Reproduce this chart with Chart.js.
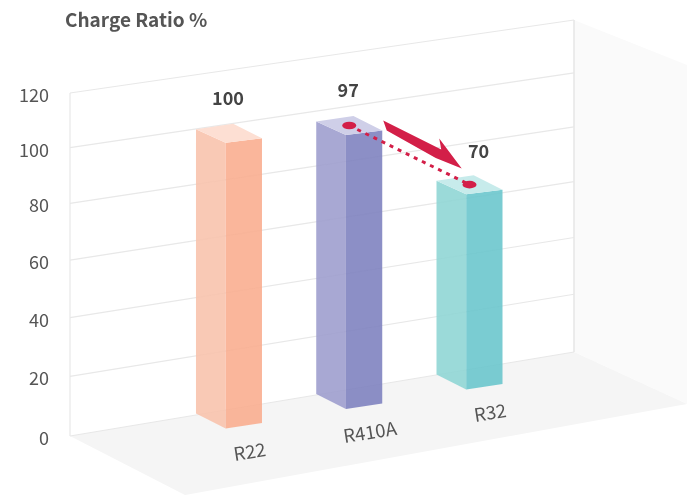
<!DOCTYPE html>
<html>
<head>
<meta charset="utf-8">
<title>Charge Ratio</title>
<style>
    html, body { margin: 0; padding: 0; background: #fff; }
    canvas { display: block; }
</style>
<script src="https://cdn.jsdelivr.net/npm/chart.js@4"></script>
</head>
<body>
<canvas id="ratioChart" width="687" height="498"></canvas>
<script>
/* ------------------------------
   DATA
--------------------------------*/

const categories = ["R22", "R410A", "R32"];
const chargeRatio = [100, 97, 70];
const valueTicks = [0, 20, 40, 60, 80, 100, 120];

/* ------------------------------
   COLOURS (left face, right face, top face)
--------------------------------*/

const leftFaces = ["#f8c3ade6", "#9f9fcee6", "#90d6d5e6"];
const rightFaces = ["#f9ae90e6", "#8083c0e6", "#6bc6cde6"];
const topFaces = ["#fddfd3", "#cfcfe8", "#c7ebeb"];
const red = "#d31f48";
const gridColor = "#e8e8e8";
const fontName = '"Noto Sans CJK KR", "Noto Sans", sans-serif';

/* ------------------------------
   SCALES WITH THE ROOM'S PERSPECTIVE
--------------------------------*/

// ticks bunch up slightly towards the top of the back wall
class WallScale extends Chart.LinearScale {
    getPixelForTick(index) {
        const t = this.ticks[index].value / this.max;
        return this.bottom - (this.bottom - this.top) * (t + 0.052 * t * (1 - t));
    }
}
WallScale.id = "wall";
WallScale.defaults = Chart.LinearScale.defaults;

// the bars stand in the middle of the floor, not spread over the whole wall
class FloorScale extends Chart.CategoryScale {
    configure() {
        super.configure();
        this._startValue = -1.322;
        this._valueRange = 4.191;
    }
}
FloorScale.id = "floor";
FloorScale.defaults = Chart.CategoryScale.defaults;

Chart.register(WallScale, FloorScale);

// where a wall point ends up on the right hand edge
function wallRightY(y, area) {
    return 352 - (area.bottom - y) * 332 / (area.bottom - area.top);
}

function poly(ctx, pts, fill) {
    ctx.beginPath();
    pts.forEach((p, i) => i ? ctx.lineTo(p[0], p[1]) : ctx.moveTo(p[0], p[1]));
    ctx.closePath();
    ctx.fillStyle = fill;
    ctx.fill();
}

// corners of one box, worked out from the bar element
function boxOf(el) {
    const half = el.width / 2;
    const fx = el.x - half + el.width * 0.45;
    const fy = 428.5 - (el.x - 229) * 0.1625;
    const h = (el.base - el.y) * (1 - 0.0001 * (el.x - 229));
    const top = fy - h;
    return {
        bottom: { left: [el.x - half, fy - 15], front: [fx, fy], right: [el.x + half, fy - 5.5] },
        top: { left: [el.x - half, top - 13.5], front: [fx, top], right: [el.x + half, top - 4.5], back: [fx + 7.5, top - 19] },
        center: [el.x, top - 9.5]
    };
}

/* ------------------------------
   ROOM: FLOOR, SIDE WALL, GRID LINES
--------------------------------*/

const roomPlugin = {
    id: "room",
    beforeDraw(chart) {
        // the title starts above the wall, not at the canvas edge
        chart.titleBlock.left = 65;
    },
    beforeDatasetsDraw(chart) {
        const ctx = chart.ctx;
        const area = chart.chartArea;
        const y = chart.scales.y;

        ctx.save();
        poly(ctx, [[574, 20], [687, 65], [687, 404], [574, 352]], "#fafafa");
        poly(ctx, [[area.left, area.bottom], [574, 352], [687, 404], [185, 495]], "#f5f5f5");

        ctx.strokeStyle = gridColor;
        ctx.lineWidth = 1.2;
        y.ticks.forEach((t, i) => {
            const py = y.getPixelForTick(i);
            ctx.beginPath();
            ctx.moveTo(area.left, py);
            ctx.lineTo(area.right, wallRightY(py, area));
            ctx.stroke();
        });
        ctx.beginPath();
        ctx.moveTo(area.left, area.top);
        ctx.lineTo(area.left, area.bottom);
        ctx.stroke();
        ctx.lineWidth = 1.6;
        ctx.beginPath();
        ctx.moveTo(area.right, wallRightY(area.top, area));
        ctx.lineTo(area.right, wallRightY(area.bottom, area));
        ctx.stroke();
        ctx.restore();
    }
};

/* ------------------------------
   3D BARS
--------------------------------*/

const boxPlugin = {
    id: "boxes",
    beforeDatasetDraw(chart, args) {
        const ctx = chart.ctx;
        args.meta.data.forEach((el, i) => {
            const b = boxOf(el);
            poly(ctx, [b.top.left, b.top.front, b.bottom.front, b.bottom.left], leftFaces[i]);
            poly(ctx, [b.top.front, b.top.right, b.bottom.right, b.bottom.front], rightFaces[i]);
            poly(ctx, [b.top.left, b.top.front, b.top.right, b.top.back], topFaces[i]);
        });
        return false;
    },
    afterDatasetsDraw(chart) {
        const ctx = chart.ctx;
        const boxes = chart.getDatasetMeta(0).data.map(boxOf);
        const from = boxes[1].center;
        const to = boxes[2].center;

        /* category names lie on the floor */
        ctx.save();
        ctx.fillStyle = "#555";
        ctx.font = "18.5px " + fontName;
        ctx.textAlign = "center";
        ctx.textBaseline = "middle";
        categories.forEach((name, i) => {
            const front = boxes[i].bottom.front;
            ctx.save();
            ctx.translate(front[0] + 24, front[1] + 23);
            ctx.rotate(-9 * Math.PI / 180);
            ctx.fillText(name, 0, 0);
            ctx.restore();
        });

        /* drop from R410A to R32 */
        ctx.strokeStyle = red;
        ctx.lineWidth = 3;
        ctx.setLineDash([4, 5]);
        ctx.beginPath();
        ctx.moveTo(from[0], from[1]);
        ctx.lineTo(to[0], to[1]);
        ctx.stroke();
        ctx.setLineDash([]);

        [from, to].forEach(p => {
            ctx.beginPath();
            ctx.ellipse(p[0], p[1], 7, 3.8, 0, 0, Math.PI * 2);
            ctx.fillStyle = red;
            ctx.fill();
        });

        const arrow = [[34, -5], [92, 24], [90, 13], [112.5, 43], [86.5, 32.5], [37.5, 5]];
        poly(ctx, arrow.map(a => [from[0] + a[0], from[1] + a[1]]), red);

        /* value labels */
        ctx.fillStyle = "#444";
        ctx.font = "bold 18px " + fontName;
        chargeRatio.forEach((v, i) => {
            const shift = i === 2 ? 10 : 0;
            const drop = i === 2 ? 2 : 0;
            ctx.fillText(String(v), boxes[i].center[0] + shift - 1, boxes[i].center[1] - 35 + drop);
        });
        ctx.restore();
    }
};

/* ------------------------------
   CHART
--------------------------------*/

let ratioChart = new Chart(document.getElementById("ratioChart"), {
    type: "bar",
    data: {
        labels: categories,
        datasets: [{
            label: "Charge Ratio %",
            data: chargeRatio,
            barThickness: 66,
            backgroundColor: rightFaces
        }]
    },
    options: {
        responsive: false,
        animation: false,
        layout: { padding: { left: 0, right: 113, top: 0, bottom: 62 } },
        plugins: {
            legend: { display: false },
            tooltip: { enabled: false },
            title: {
                display: true,
                text: "Charge Ratio %",
                align: "start",
                color: "#555",
                font: { family: fontName, size: 19, weight: "bold", lineHeight: 1.2 },
                padding: { top: 8, bottom: 62.2 }
            }
        },
        scales: {
            x: { type: "floor", display: false },
            y: {
                type: "wall",
                min: 0,
                max: 120,
                afterBuildTicks(scale) {
                    scale.ticks = valueTicks.map(v => ({ value: v }));
                },
                afterFit(scale) {
                    scale.width = 70;
                },
                grid: { display: false },
                border: { display: false },
                ticks: {
                    padding: 13,
                    labelOffset: 2,
                    color: "#555",
                    font: { family: fontName, size: 18 }
                }
            }
        }
    },
    plugins: [roomPlugin, boxPlugin]
});
</script>
</body>
</html>
